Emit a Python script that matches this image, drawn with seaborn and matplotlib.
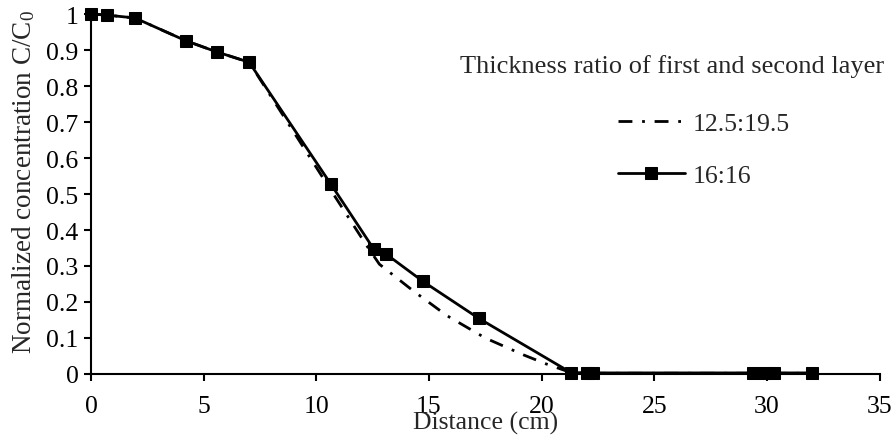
import numpy as np
import pandas as pd
import matplotlib
matplotlib.use('Agg')
import matplotlib.pyplot as plt
import seaborn as sns

# data
dist_a = [0, 0.7, 1.95, 4.2, 5.57, 7.02, 10.55, 12.2, 12.8, 14.3, 15.8, 17.5, 19.2, 20.2, 21.3, 22.1, 29.9, 32.0]
conc_a = [1.0, 0.997, 0.989, 0.926, 0.895, 0.866, 0.52, 0.36, 0.305, 0.231, 0.162, 0.10, 0.053, 0.028, 0.004, 0.002, 0.002, 0.002]

dist_b = [0, 0.7, 1.95, 4.2, 5.57, 7.02, 10.64, 12.55, 13.1, 14.74, 17.2, 21.3, 22.0, 22.3, 29.4, 29.9, 30.3, 32.0]
conc_b = [1.0, 0.997, 0.989, 0.926, 0.895, 0.866, 0.528, 0.347, 0.333, 0.257, 0.155, 0.004, 0.003, 0.003, 0.003, 0.003, 0.003, 0.003]

labels = ['12.5:19.5', '16:16']
x_ticks = [0, 5, 10, 15, 20, 25, 30, 35]
y_ticks = [0, 0.1, 0.2, 0.3, 0.4, 0.5, 0.6, 0.7, 0.8, 0.9, 1]
y_ticklabels = ['0', '0.1', '0.2', '0.3', '0.4', '0.5', '0.6', '0.7', '0.8', '0.9', '1']

FS = 18.5

sns.set_style('ticks')
plt.rcParams['font.family'] = ['Liberation Serif', 'DejaVu Serif']
plt.rcParams['mathtext.fontset'] = 'custom'
plt.rcParams['mathtext.rm'] = 'Liberation Serif'
plt.rcParams['mathtext.it'] = 'Liberation Serif:italic'
plt.rcParams['font.size'] = FS

fig = plt.figure(figsize=(8.95, 4.39), dpi=100)
ax = fig.add_axes([0.1017, 0.1458, 0.8810, 0.8200])

df_a = pd.DataFrame({'x': dist_a, 'y': conc_a})
df_b = pd.DataFrame({'x': dist_b, 'y': conc_b})

sns.lineplot(data=df_a, x='x', y='y', ax=ax, color='black', lw=2,
             linestyle=(0, (5, 3.5, 1, 3.5)), label=labels[0], clip_on=False,
             errorbar=None, estimator=None, sort=False)
sns.lineplot(data=df_b, x='x', y='y', ax=ax, color='black', lw=2,
             marker='s', markersize=8, markeredgecolor='black',
             label=labels[1], clip_on=False,
             errorbar=None, estimator=None, sort=False)

ax.set_xlim(0, 35)
ax.set_ylim(0, 1)
ax.set_xticks(x_ticks)
ax.set_yticks(y_ticks)
ax.set_yticklabels(y_ticklabels)
ax.tick_params(axis='both', direction='out', length=5, width=1.5, labelsize=FS,
               color='black', labelcolor='black', pad=4)
ax.tick_params(axis='x', pad=10)
for s in ['left', 'bottom']:
    ax.spines[s].set_linewidth(1.5)
    ax.spines[s].set_color('black')
sns.despine(ax=ax)

ax.set_xlabel('Distance (cm)', fontsize=FS, labelpad=-4)
ax.set_ylabel('Normalized concentration C/C$_0$', fontsize=19.5)
ax.yaxis.set_label_coords(-0.068, 0.536)

ax.text(1.006, 0.858, 'Thickness ratio of first and second layer',
        transform=ax.transAxes, ha='right', va='center', fontsize=19)
ax.legend(loc='upper left', bbox_to_anchor=(0.668, 0.729), frameon=False,
          borderpad=0, borderaxespad=0, handlelength=2.6, handletextpad=0.3,
          labelspacing=1.14, fontsize=FS)

fig.savefig('out.png', dpi=100)
